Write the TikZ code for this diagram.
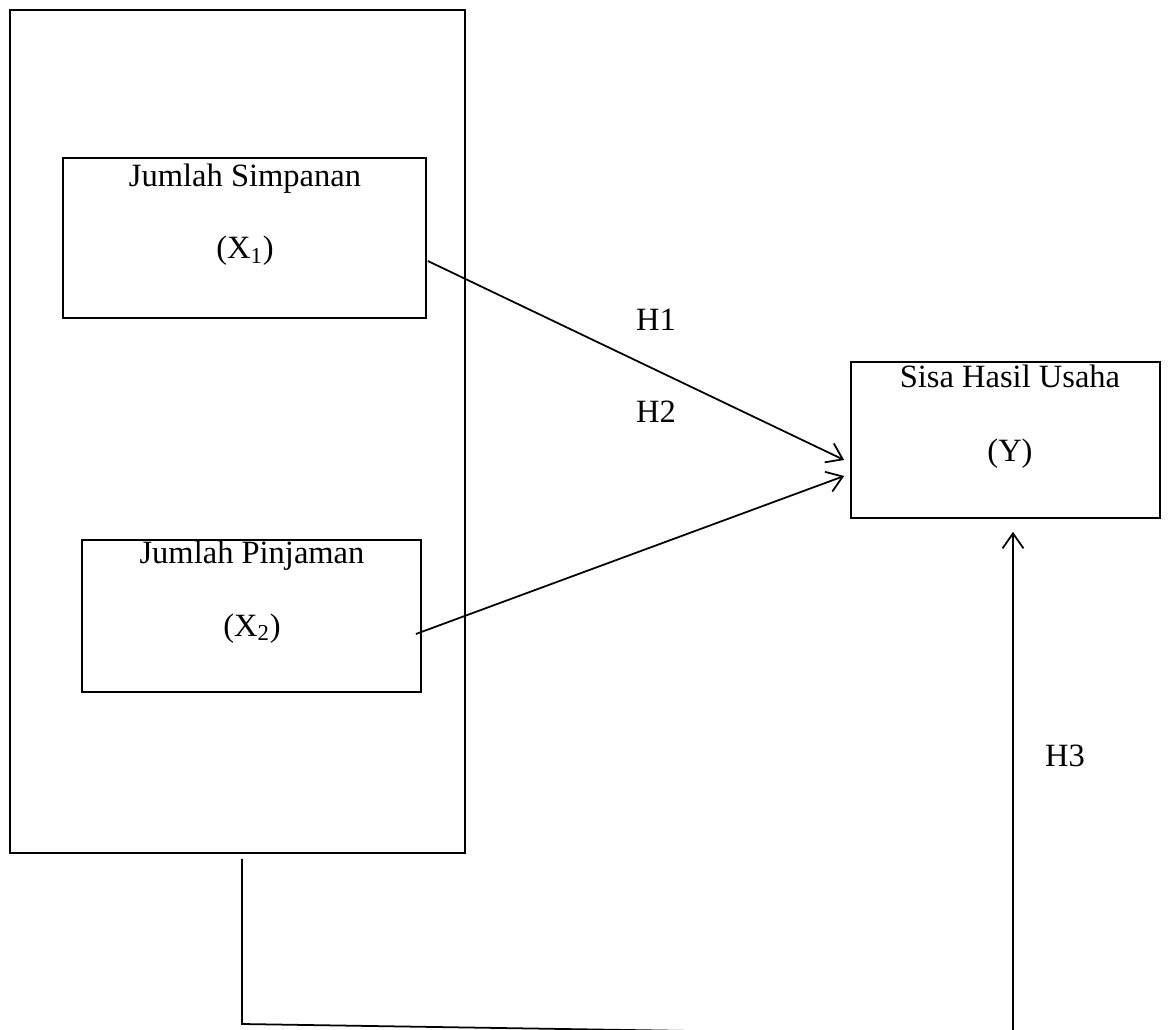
\documentclass[tikz,border=0pt]{standalone}
\usepackage{fontspec}
\setmainfont{Liberation Serif}
\usetikzlibrary{arrows.meta}

\tikzset{
  varbox/.style={draw,line width=1pt,inner sep=0pt},
  txt/.style={anchor=base,inner sep=0pt,font=\fontsize{18.5}{22}\selectfont},
  barb/.style={-{Straight Barb[length=0.3cm,width=0.42cm,line width=1pt]}}
}

\begin{document}
\begin{tikzpicture}[x=0.02cm,y=-0.02cm,line width=1pt]
\useasboundingbox (0,0) rectangle (1170,1030);
\clip (0,0) rectangle (1170,1030);

% variabel bebas
\node [varbox,minimum width=9.1cm,minimum height=16.86cm] (bebas) at (237.5,431.5) {};
\node [varbox,minimum width=7.26cm,minimum height=3.2cm] (x1) at (244.5,238) {};
\node [txt] (x1nama) at (245,187) {Jumlah Simpanan};
\node [txt] (x1kode) at (245,259) {(X\textsubscript{1})};
\node [varbox,minimum width=6.78cm,minimum height=3.04cm] (x2) at (251.5,616) {};
\node [txt] (x2nama) at (252,563) {Jumlah Pinjaman};
\node [txt] (x2kode) at (252,636) {(X\textsubscript{2})};

% variabel terikat
\node [varbox,minimum width=6.18cm,minimum height=3.12cm] (shu) at (1005.5,440) {};
\node [txt] (shunama) at (1010,388) {Sisa Hasil Usaha};
\node [txt] (shukode) at (1010,461) {(Y)};

% hipotesis
\coordinate (h1a) at ([shift={(1,23)}]x1.east);
\coordinate (h1b) at ([shift={(-6,20)}]shu.west);
\coordinate (h2a) at ([shift={(-6,18)}]x2.east);
\coordinate (h2b) at ([shift={(-6,36)}]shu.west);
\coordinate (h3b) at ([shift={(7.5,13)}]shu.south);
\coordinate (h3a) at ([shift={(4.5,5)}]bebas.south);
\coordinate (bawahkiri) at (242,1024);
\coordinate (bawahkanan) at (1013,1036);

\draw [barb] (h1a) -- (h1b); \node [txt] (lh1) at (656,331) {H1};
\draw [barb] (h2a) -- (h2b); \node [txt] (lh2) at (656,423) {H2};
\draw [barb] (h3a) -- (bawahkiri) -- (bawahkanan) -- (h3b); \node [txt] (lh3) at (1065,766) {H3};

\end{tikzpicture}
\end{document}
